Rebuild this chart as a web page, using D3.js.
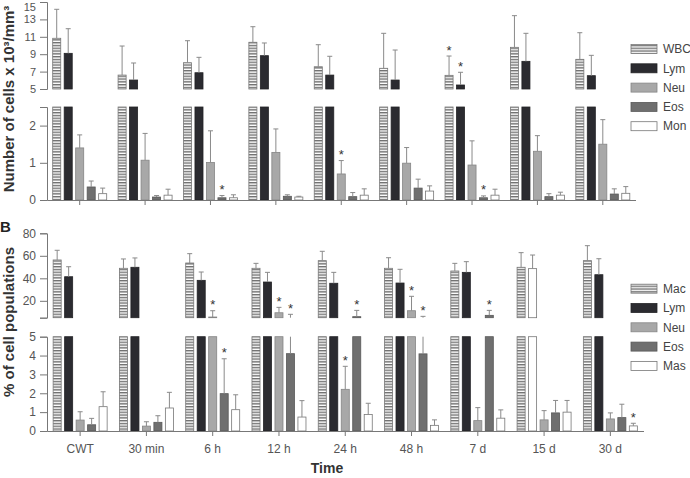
<!DOCTYPE html>
<html>
<head>
<meta charset="utf-8">
<script src="https://cdn.jsdelivr.net/npm/d3@7"></script>
<style>
body { margin: 0; background: #fff; }
text { font-family: "Liberation Sans", Arial, sans-serif; }
</style>
</head>
<body>
<svg id="chart"></svg>
<script>
const times = ["CWT", "30 min", "6 h", "12 h", "24 h", "48 h", "7 d", "15 d", "30 d"];

// A: number of cells (x10^3/mm^3), mean and SD
const namesA = ["WBC", "Lym", "Neu", "Eos", "Mon"];
const wbcA = [10.83, 6.6, 8.02, 10.37, 7.56, 7.38, 6.57, 9.79, 8.41];
const wbcAsd = [3.33, 3.34, 2.53, 1.79, 2.53, 4.02, 2.22, 3.64, 3.06];
const lymA = [9.1, 6.03, 6.87, 8.83, 6.6, 6.03, 5.46, 8.18, 6.53];
const lymAsd = [2.83, 1.96, 1.77, 1.46, 2.16, 3.45, 1.46, 3.22, 2.34];
const neuA = [1.40, 1.07, 1.01, 1.28, 0.70, 0.99, 0.94, 1.31, 1.50];
const neuAsd = [0.35, 0.72, 0.85, 0.63, 0.36, 0.42, 0.65, 0.42, 0.66];
const eosA = [0.35, 0.08, 0.06, 0.10, 0.09, 0.32, 0.06, 0.09, 0.16];
const eosAsd = [0.16, 0.04, 0.06, 0.04, 0.11, 0.24, 0.05, 0.08, 0.14];
const monA = [0.17, 0.13, 0.06, 0.08, 0.13, 0.24, 0.13, 0.13, 0.18];
const monAsd = [0.15, 0.16, 0.08, 0.02, 0.17, 0.14, 0.16, 0.08, 0.18];

// B: % of cell populations, mean and SD
const namesB = ["Mac", "Lym", "Neu", "Eos", "Mas"];
const macB = [56.3, 48.9, 53.6, 48.9, 55.7, 48.9, 46.5, 49.8, 55.7];
const macBsd = [8.6, 8.3, 8.3, 4.4, 8.3, 9.4, 6.8, 13.0, 13.3];
const lymB = [41.4, 49.8, 38.2, 36.7, 35.6, 35.8, 45.3, 48.6, 43.2];
const lymBsd = [8.9, 8.3, 7.4, 8.6, 9.7, 12.2, 9.5, 12.1, 14.2];
const neuB = [0.58, 0.26, 5.6, 9.4, 2.21, 11.2, 0.55, 0.59, 0.64];
const neuBsd = [0.44, 0.23, 5.6, 4.8, 1.22, 12.8, 0.69, 0.49, 0.32];
const eosB = [0.33, 0.46, 1.98, 4.1, 5.9, 4.09, 7.1, 0.96, 0.71];
const eosBsd = [0.34, 0.35, 1.85, 3.9, 5.6, 2.11, 4.4, 0.66, 0.71];
const masB = [1.29, 1.22, 1.13, 0.74, 0.87, 0.30, 0.68, 1.0, 0.27];
const masBsd = [0.79, 0.83, 0.79, 0.87, 0.60, 0.29, 0.44, 0.62, 0.14];
const hollowLymB = ["15 d"]; // lym bar printed open at 15 d

// significance marks: [time, series index]
const starsATop = [["7 d", 0], ["7 d", 1]];
const starsALow = [["6 h", 3], ["24 h", 2], ["7 d", 3]];
const starsBTop = [["6 h", 2], ["12 h", 2], ["12 h", 3], ["24 h", 3], ["48 h", 2], ["48 h", 3], ["7 d", 3]];
const starsBLow = [["6 h", 3], ["24 h", 2], ["30 d", 4]];

const ticksATop = [5, 7, 9, 11, 13, 15];
const ticksALow = [0, 1, 2];
const ticksBTop = [5, 20, 40, 60, 80];
const ticksBLow = [0, 1, 2, 3, 4, 5];

const width = 690, height = 478;
const svg = d3.select("#chart").attr("width", width).attr("height", height);

const pat = svg.append("defs").append("pattern")
    .attr("id", "stripes")
    .attr("patternUnits", "userSpaceOnUse")
    .attr("width", 4).attr("height", 2.8);
pat.append("rect").attr("width", 4).attr("height", 2.8).attr("fill", "#fff");
pat.append("rect").attr("width", 4).attr("height", 1.4).attr("fill", "#707070");

const fills = ["url(#stripes)", "#2b2b30", "#a8a8a8", "#6f6f6f", "#fff"];
const strokes = ["#777", "#232326", "#858585", "#595959", "#777"];

const xA = d3.scaleBand().domain(times).range([47, 635.5]);
const xB = d3.scaleBand().domain(times).range([47, 643.5]);
const inner = d3.scaleBand().domain(d3.range(5)).range([-27, 27]).paddingInner(0.3);

const dataA = [[wbcA, wbcAsd], [lymA, lymAsd], [neuA, neuAsd], [eosA, eosAsd], [monA, monAsd]];
const dataB = [[macB, macBsd], [lymB, lymBsd], [neuB, neuBsd], [eosB, eosBsd], [masB, masBsd]];

const panels = [
    { x: xA, y: d3.scaleLinear().domain([5, 15]).range([89, 2]), ticks: ticksATop, data: dataA, stars: starsATop, fs: 11 },
    { x: xA, y: d3.scaleLinear().domain([0, 2.5]).range([200, 107]), ticks: ticksALow, data: dataA, stars: starsALow, base: true },
    { x: xB, y: d3.scaleLinear().domain([5, 80]).range([317.7, 233.3]), ticks: ticksBTop, data: dataB, stars: starsBTop, hideLow: true },
    { x: xB, y: d3.scaleLinear().domain([0, 5]).range([431, 336.7]), ticks: ticksBLow, data: dataB, stars: starsBLow, base: true, labels: true }
];

panels.forEach(p => {
    const g = svg.append("g");
    const [lo, hi] = p.y.domain();
    const bw = inner.bandwidth();
    const cx = (t, si) => p.x(t) + p.x.bandwidth() / 2 + inner(si) + bw / 2;

    const rows = [];
    p.data.forEach(([mean, sd], si) => times.forEach((t, ti) => {
        rows.push({ t, si, m: mean[ti], e: mean[ti] + sd[ti],
            hollow: p.data === dataB && si === 1 && hollowLymB.includes(t) });
    }));

    g.selectAll("rect.bar")
        .data(rows.filter(d => d.m > lo))
        .enter().append("rect")
        .attr("class", "bar")
        .attr("x", d => cx(d.t, d.si) - bw / 2)
        .attr("y", d => p.y(Math.min(d.m, hi)))
        .attr("width", bw)
        .attr("height", d => p.y(lo) - p.y(Math.min(d.m, hi)))
        .attr("fill", d => d.hollow ? "#fff" : fills[d.si])
        .attr("stroke", d => d.hollow ? "#777" : strokes[d.si])
        .attr("stroke-width", 0.8);

    const errs = rows.filter(d => d.e > lo && d.m < hi);
    g.selectAll("line.err")
        .data(errs)
        .enter().append("line")
        .attr("x1", d => cx(d.t, d.si)).attr("x2", d => cx(d.t, d.si))
        .attr("y1", d => p.y(Math.max(d.m, lo)))
        .attr("y2", d => p.y(Math.min(d.e, hi)))
        .attr("stroke", "#8a8a8a").attr("stroke-width", 1);

    g.selectAll("line.cap")
        .data(errs.filter(d => d.e <= hi))
        .enter().append("line")
        .attr("x1", d => cx(d.t, d.si) - 2.5).attr("x2", d => cx(d.t, d.si) + 2.5)
        .attr("y1", d => p.y(d.e)).attr("y2", d => p.y(d.e))
        .attr("stroke", "#8a8a8a").attr("stroke-width", 1);

    g.selectAll("text.star")
        .data(p.stars)
        .enter().append("text")
        .attr("x", d => cx(d[0], d[1]))
        .attr("y", d => {
            const [mean, sd] = p.data[d[1]];
            const i = times.indexOf(d[0]);
            return p.y(Math.min(mean[i] + sd[i], hi)) - 1.5;
        })
        .attr("text-anchor", "middle")
        .attr("font-size", 13)
        .attr("fill", "#333")
        .text("*");

    const ax = g.append("g")
        .attr("transform", "translate(47,0)")
        .call(d3.axisLeft(p.y).tickValues(p.ticks).tickSize(7).tickPadding(4)
            .tickFormat(v => (p.hideLow && v === lo) ? "" : d3.format("d")(v)));
    ax.selectAll("path, line").attr("stroke", "#777");
    ax.selectAll("text").attr("font-size", p.fs || 12).attr("fill", "#555")
        .style("font-family", "'Liberation Sans', Arial, sans-serif");
    // keep the top label inside the frame
    ax.selectAll(".tick text").filter(v => p.y(v) < 6).attr("dy", "0.74em");

    if (p.base) {
        const bx = g.append("g")
            .attr("transform", `translate(0,${p.y(lo)})`)
            .call(d3.axisBottom(p.x).tickSize(5).tickSizeOuter(0).tickPadding(8)
                .tickFormat(t => p.labels ? t : ""));
        bx.selectAll("path, line").attr("stroke", "#777");
        bx.selectAll("text").attr("font-size", 12).attr("fill", "#555")
            .style("font-family", "'Liberation Sans', Arial, sans-serif");
    }
});

// legends
function legend(names, y0) {
    const lg = svg.append("g");
    names.forEach((n, i) => {
        const y = y0 + i * 19.3;
        lg.append("rect")
            .attr("x", 631).attr("y", y - 4.5)
            .attr("width", 26).attr("height", 9)
            .attr("fill", fills[i]).attr("stroke", strokes[i]).attr("stroke-width", 0.8);
        lg.append("text")
            .attr("x", 663).attr("y", y).attr("dy", "0.35em")
            .attr("font-size", 12).attr("fill", "#444")
            .text(n);
    });
}
legend(namesA, 49);
legend(namesB, 288.7);

// titles
svg.append("text")
    .attr("transform", "translate(14,99) rotate(-90)")
    .attr("text-anchor", "middle")
    .attr("font-size", 15).attr("font-weight", "bold").attr("fill", "#333")
    .text("Number of cells x 10³/mm³");
svg.append("text")
    .attr("transform", "translate(14,322) rotate(-90)")
    .attr("text-anchor", "middle")
    .attr("font-size", 15).attr("font-weight", "bold").attr("fill", "#333")
    .text("% of cell populations");
svg.append("text")
    .attr("x", 0).attr("y", 232)
    .attr("font-size", 15).attr("font-weight", "bold").attr("fill", "#222")
    .text("B");
svg.append("text")
    .attr("x", 327).attr("y", 473)
    .attr("text-anchor", "middle")
    .attr("font-size", 14).attr("font-weight", "bold").attr("fill", "#333")
    .text("Time");
</script>
</body>
</html>
